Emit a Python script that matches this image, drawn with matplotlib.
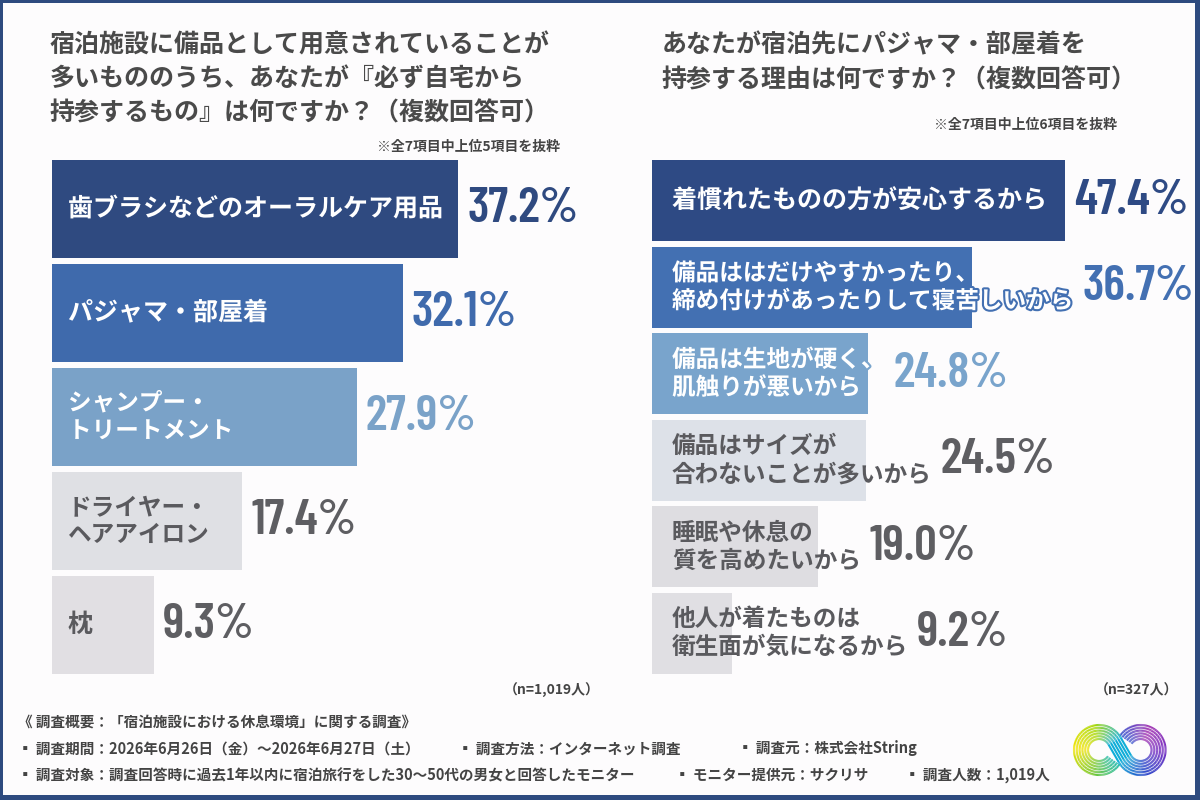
import numpy as np
import matplotlib
matplotlib.use("Agg")
import matplotlib.pyplot as plt
from matplotlib import font_manager as fm
from matplotlib.patches import Rectangle
from matplotlib.collections import LineCollection
from matplotlib.colors import LinearSegmentedColormap
import matplotlib.patheffects as pe

# ---- data ----
left_labels = ["歯ブラシなどのオーラルケア用品", "パジャマ・部屋着", "シャンプー・\nトリートメント",
               "ドライヤー・\nヘアアイロン", "枕"]
left_values = [37.2, 32.1, 27.9, 17.4, 9.3]
left_colors = ["#2f4a80", "#3f6aac", "#7aa2c8", "#dfe0e4", "#e1dfe3"]
left_value_colors = ["#2f4a80", "#3f6aac", "#7aa2c8", "#5e5e62", "#5e5e62"]

right_labels = ["着慣れたものの方が安心するから",
                "備品ははだけやすかったり、\n締め付けがあったりして寝苦しいから",
                "備品は生地が硬く、\n肌触りが悪いから",
                "備品はサイズが\n合わないことが多いから",
                "睡眠や休息の\n質を高めたいから",
                "他人が着たものは\n衛生面が気になるから"]
right_values = [47.4, 36.7, 24.8, 24.5, 19.0, 9.2]
right_colors = ["#2e4a84", "#4370b2", "#79a4cc", "#dde1e8", "#dedde1", "#e0dfe3"]
right_value_colors = ["#2e4a84", "#4370b2", "#79a4cc", "#5e5e62", "#5e5e62", "#5e5e62"]

left_title = ["宿泊施設に備品として用意されていることが",
              "多いもののうち、あなたが『必ず自宅から",
              "持参するもの』は何ですか？（複数回答可）"]
right_title = ["あなたが宿泊先にパジャマ・部屋着を",
               "持参する理由は何ですか？（複数回答可）"]

footer = [
    [(18, "《 調査概要：「宿泊施設における休息環境」に関する調査》")],
    [(18, "▪ 調査期間：2026年6月26日（金）～2026年6月27日（土）"),
     (458, "▪ 調査方法：インターネット調査"),
     (738, "▪ 調査元：株式会社String")],
    [(18, "▪ 調査対象：調査回答時に過去1年以内に宿泊旅行をした30～50代の男女と回答したモニター"),
     (675, "▪ モニター提供元：サクリサ"),
     (905, "▪ 調査人数：1,019人")],
]

JP = "Noto Sans CJK JP"
available = {f.name for f in fm.fontManager.ttflist}
NUM = next((f for f in ["Barlow Condensed", "Roboto Condensed", "Barlow Semi Condensed",
                        "IBM Plex Sans Condensed", "Open Sans Condensed", "Oswald", "DejaVu Sans"]
            if f in available), "DejaVu Sans")
plt.rcParams['font.family'] = [JP, 'DejaVu Sans']

W, H = 1200, 800
fig = plt.figure(figsize=(12, 8), dpi=100, facecolor="#2e4b7f")
fig.patches.append(Rectangle((3 / W, 5 / H), (W - 8) / W, (H - 8) / H,
                             transform=fig.transFigure, facecolor="#fdfcfd",
                             edgecolor="none", zorder=-5))


def ftext(x, y, s, **kw):
    return fig.text(x / W, 1 - y / H, s, **kw)


def panel(rect, values, labels, colors, px_per_unit, pitch_px, height_px, label_off):
    x0, top, width, bottom = rect
    ax = fig.add_axes([x0 / W, 1 - bottom / H, width / W, (bottom - top) / H])
    ax.set_facecolor("none")
    n = len(values)
    pos = np.arange(n)
    h = height_px / pitch_px
    ax.barh(pos, values, height=h, color=colors, edgecolor="none")
    ax.set_xlim(0, width / px_per_unit)
    span = (bottom - top) / pitch_px
    ax.set_ylim(n - 1 + (span - (n - 1)) / 2, -(span - (n - 1)) / 2)
    ax.axis("off")
    texts = []
    for i, (lab, c) in enumerate(zip(labels, colors)):
        dark = i < 3
        size = 17 if "\n" in lab else 18
        t = ax.annotate(lab, xy=(0, i), xytext=(label_off, 0), textcoords="offset pixels",
                        va="center", ha="left", fontsize=size, fontweight="bold",
                        color="white" if dark else "#5a5a5e", linespacing=1.2,
                        annotation_clip=False)
        if dark:
            t.set_path_effects([pe.withStroke(linewidth=3, foreground=c)])
        texts.append(t)
    return ax, texts


axL, textsL = panel((52, 160, 548, 674), left_values, left_labels, left_colors,
                    10.92, 104, 98, 16)
axR, textsR = panel((652, 160, 538, 674), right_values, right_labels, right_colors,
                    8.72, 86.5, 81, 20)

fig.canvas.draw()
renderer = fig.canvas.get_renderer()
for ax, texts, values, vcols in [(axL, textsL, left_values, left_value_colors),
                                 (axR, textsR, right_values, right_value_colors)]:
    for i, (t, v, c) in enumerate(zip(texts, values, vcols)):
        bar_end = ax.transData.transform((v, i))[0]
        lab_end = t.get_window_extent(renderer).x1
        off = max(bar_end, lab_end) + 9 - bar_end
        ax.annotate(f"{v:.1f}%", xy=(v, i), xytext=(off, 0), textcoords="offset pixels",
                    va="center", ha="left", fontsize=36, fontweight="semibold",
                    family=NUM, color=c, annotation_clip=False)

# titles
for k, line in enumerate(left_title):
    ftext(50, 45 + 34 * k, line, fontsize=18, fontweight="bold", color="#4a4a4a", va="center")
for k, line in enumerate(right_title):
    ftext(662, 45 + 35 * k, line, fontsize=18, fontweight="bold", color="#4a4a4a", va="center")
ftext(560, 147, "※全7項目中上位5項目を抜粋", fontsize=10, fontweight="bold", color="#444444",
      ha="right", va="center")
ftext(1117, 125, "※全7項目中上位6項目を抜粋", fontsize=10, fontweight="bold", color="#444444",
      ha="right", va="center")
ftext(552, 690, "（n=1,019人）", fontsize=10, fontweight="bold", color="#444444",
      ha="center", va="center")
ftext(1136, 690, "（n=327人）", fontsize=10, fontweight="bold", color="#444444",
      ha="center", va="center")

# footer
for row, items in enumerate(footer):
    for x, s in items:
        ftext(x, 722 + 26.5 * row, s, fontsize=10.5, fontweight="bold", color="#444444", va="center")

# logo: two tangent-joined arc loops drawn as parallel rainbow strokes
lax = fig.add_axes([1068 / W, 1 - 785 / H, 110 / W, 70 / H])
lax.set_xlim(0, 110)
lax.set_ylim(0, 70)
lax.set_aspect("equal")
lax.axis("off")
R = 18
cL = np.array([31.0, 35.0])
cR = cL + np.array([2.31 * R, 0])
cmap = LinearSegmentedColormap.from_list("logo", ["#18b8a8", "#7cc820", "#f2e400", "#a8d800",
                                                  "#10b0d8", "#2040c8", "#7028c0", "#a030b0",
                                                  "#3858d0"])
for d in np.linspace(-7, 7, 6):
    aL = np.radians(np.linspace(-35, -330, 120))
    pL = np.c_[cL[0] + (R + d) * np.cos(aL), cL[1] + (R + d) * np.sin(aL)]
    aR = np.radians(np.linspace(-150, 145, 120))
    pR = np.c_[cR[0] + (R - d) * np.cos(aR), cR[1] + (R - d) * np.sin(aR)]
    pts = np.vstack([pL, pR])
    segs = np.stack([pts[:-1], pts[1:]], axis=1)
    lc = LineCollection(segs, cmap=cmap, linewidths=1.5, capstyle="butt")
    lc.set_array(np.linspace(0, 1, len(segs)))
    lax.add_collection(lc)

fig.savefig("out.png", dpi=100, facecolor=fig.get_facecolor())
